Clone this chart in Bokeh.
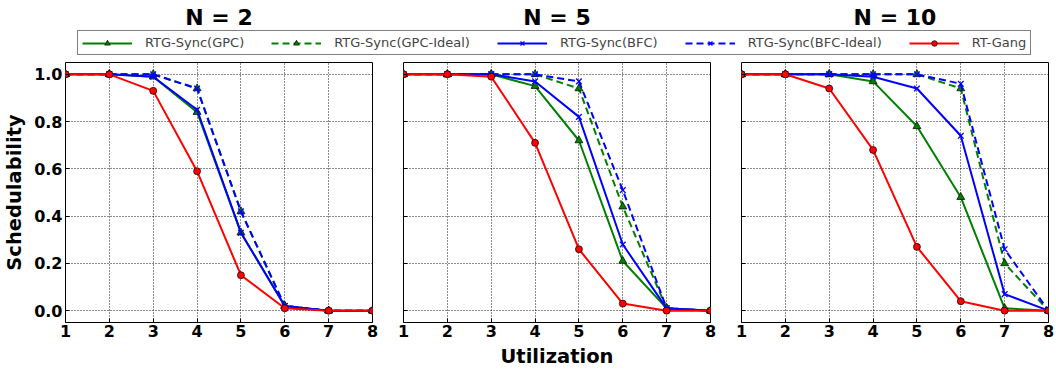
from bokeh.plotting import figure
from bokeh.layouts import column, row
from bokeh.models import (Label, Legend, LegendItem, FixedTicker,
                          NumeralTickFormatter, Range1d, CustomJSTickFormatter)
from bokeh.embed import file_html
from bokeh.resources import INLINE

# ---------------- data ----------------
utilization = [1, 2, 3, 4, 5, 6, 7, 8]
panel_titles = ["N = 2", "N = 5", "N = 10"]
series_names = ["RTG-Sync(GPC)", "RTG-Sync(GPC-Ideal)", "RTG-Sync(BFC)",
                "RTG-Sync(BFC-Ideal)", "RT-Gang"]

gpc_n2 = [1.0, 1.0, 0.99, 0.84, 0.33, 0.02, 0.0, 0.0]
gpc_ideal_n2 = [1.0, 1.0, 1.0, 0.94, 0.42, 0.02, 0.0, 0.0]
bfc_n2 = [1.0, 1.0, 0.99, 0.85, 0.33, 0.02, 0.0, 0.0]
bfc_ideal_n2 = [1.0, 1.0, 1.0, 0.94, 0.42, 0.02, 0.0, 0.0]
rtgang_n2 = [1.0, 1.0, 0.93, 0.59, 0.15, 0.01, 0.0, 0.0]

gpc_n5 = [1.0, 1.0, 1.0, 0.95, 0.72, 0.21, 0.01, 0.0]
gpc_ideal_n5 = [1.0, 1.0, 1.0, 1.0, 0.94, 0.44, 0.01, 0.0]
bfc_n5 = [1.0, 1.0, 1.0, 0.97, 0.82, 0.28, 0.01, 0.0]
bfc_ideal_n5 = [1.0, 1.0, 1.0, 1.0, 0.97, 0.51, 0.01, 0.0]
rtgang_n5 = [1.0, 1.0, 0.99, 0.71, 0.26, 0.03, 0.0, 0.0]

gpc_n10 = [1.0, 1.0, 1.0, 0.97, 0.78, 0.48, 0.01, 0.0]
gpc_ideal_n10 = [1.0, 1.0, 1.0, 1.0, 1.0, 0.94, 0.20, 0.0]
bfc_n10 = [1.0, 1.0, 1.0, 0.99, 0.94, 0.74, 0.07, 0.0]
bfc_ideal_n10 = [1.0, 1.0, 1.0, 1.0, 1.0, 0.96, 0.26, 0.0]
rtgang_n10 = [1.0, 1.0, 0.94, 0.68, 0.27, 0.04, 0.0, 0.0]

x_ticks = [1, 2, 3, 4, 5, 6, 7, 8]
y_ticks = [0.0, 0.2, 0.4, 0.6, 0.8, 1.0]

panels_data = [
    [gpc_n2, gpc_ideal_n2, bfc_n2, bfc_ideal_n2, rtgang_n2],
    [gpc_n5, gpc_ideal_n5, bfc_n5, bfc_ideal_n5, rtgang_n5],
    [gpc_n10, gpc_ideal_n10, bfc_n10, bfc_ideal_n10, rtgang_n10],
]

# ---------------- styles ----------------
FONT = "DejaVu Sans"
GREEN, BLUE, RED = "#008000", "#0000ff", "#ff0000"
styles = [
    dict(color=GREEN, dash="solid", marker="triangle"),
    dict(color=GREEN, dash="7 4", marker="triangle"),
    dict(color=BLUE, dash="solid", marker="x"),
    dict(color=BLUE, dash="7 4", marker="x"),
    dict(color=RED, dash="solid", marker="circle"),
]


def draw_series(p, xs, ys, st):
    rl = p.line(xs, ys, line_color=st["color"], line_width=2,
                line_dash=st["dash"])
    if st["marker"] == "triangle":
        rm = p.scatter(xs, ys, marker="triangle", size=8,
                       fill_color=st["color"], line_color="black",
                       line_width=0.7)
    elif st["marker"] == "x":
        rm = p.scatter(xs, ys, marker="x", size=8, line_color=st["color"],
                       line_width=1.3)
    else:
        rm = p.scatter(xs, ys, marker="circle", size=7,
                       fill_color=st["color"], line_color="black",
                       line_width=0.7)
    return rl, rm


# ---------------- layout geometry ----------------
TOP_H = 56
PANEL_H = 314
FRAME_W = 307
borders = [(65, 15), (16, 15), (16, 7)]

# ---------------- top strip (titles + legend) ----------------
total_w = sum(b[0] + FRAME_W + b[1] for b in borders)
# the legend swatches reuse real series kept outside this strip's view
top = figure(width=total_w, height=TOP_H, output_backend="svg",
             toolbar_location=None, x_range=Range1d(100, 101),
             y_range=Range1d(100, 101), x_axis_location=None,
             y_axis_location=None, min_border=0)
top.grid.visible = False
top.outline_line_color = None

acc = 0
for i, (bl, br) in enumerate(borders):
    cx = acc + bl + FRAME_W / 2
    acc += bl + FRAME_W + br
    top.add_layout(Label(x=cx, y=TOP_H - 17, x_units="screen",
                         y_units="screen", text=panel_titles[i],
                         text_align="center", text_baseline="middle",
                         text_font=FONT, text_font_size="22px",
                         text_font_style="bold", text_color="black"))

items = []
for name, ys, st in zip(series_names, panels_data[0], styles):
    rl, rm = draw_series(top, utilization, ys, st)
    items.append(LegendItem(label=name, renderers=[rl, rm]))

legend = Legend(items=items, orientation="horizontal", location=(77, 1),
                label_text_font=FONT, label_text_font_size="13px",
                glyph_width=50, glyph_height=14, label_height=14,
                label_standoff=13, spacing=27, padding=4, margin=0,
                border_line_color="black", border_line_width=1,
                background_fill_color="white", background_fill_alpha=1)
top.add_layout(legend)

# ---------------- panels ----------------
figs = []
for i, data in enumerate(panels_data):
    bl, br = borders[i]
    p = figure(width=bl + FRAME_W + br, height=PANEL_H,
               output_backend="svg", toolbar_location=None,
               x_range=Range1d(1, 8), y_range=Range1d(-0.05, 1.05),
               min_border_left=bl, min_border_right=br,
               min_border_top=6, min_border_bottom=48)
    p.outline_line_color = "black"
    p.outline_line_width = 1
    p.background_fill_color = "white"

    p.xaxis.ticker = FixedTicker(ticks=x_ticks)
    p.yaxis.ticker = FixedTicker(ticks=y_ticks)
    p.yaxis.formatter = NumeralTickFormatter(format="0.0")
    for ax in (p.xaxis, p.yaxis):
        ax.axis_line_color = None
        ax.major_tick_in = 4
        ax.major_tick_out = 0
        ax.major_tick_line_color = "black"
        ax.minor_tick_line_color = None
        ax.major_label_text_font = FONT
        ax.major_label_text_font_size = "16px"
        ax.major_label_text_font_style = "bold"
        ax.major_label_text_color = "black"
        ax.major_label_standoff = 2
        ax.axis_label_text_font = FONT
        ax.axis_label_text_font_size = "19.5px"
        ax.axis_label_text_font_style = "bold"
        ax.axis_label_text_color = "black"
        ax.axis_label_standoff = 5

    if i != 0:
        p.yaxis.formatter = CustomJSTickFormatter(code="return ''")
    else:
        p.yaxis.axis_label = "Schedulability"
        p.yaxis.major_label_standoff = 3
        p.yaxis.axis_label_standoff = 5
    if i == 1:
        p.xaxis.axis_label = "Utilization"

    p.xgrid.ticker = FixedTicker(ticks=x_ticks)
    p.ygrid.ticker = FixedTicker(ticks=y_ticks)
    p.grid.grid_line_color = "black"
    p.grid.grid_line_dash = "1 2"
    p.grid.grid_line_width = 1
    p.grid.grid_line_alpha = 0.9

    for ys, st in zip(data, styles):
        draw_series(p, utilization, ys, st)
    figs.append(p)

layout = column(top, row(*figs, spacing=0), spacing=0)
open("out.html", "w").write(file_html(layout, INLINE))
